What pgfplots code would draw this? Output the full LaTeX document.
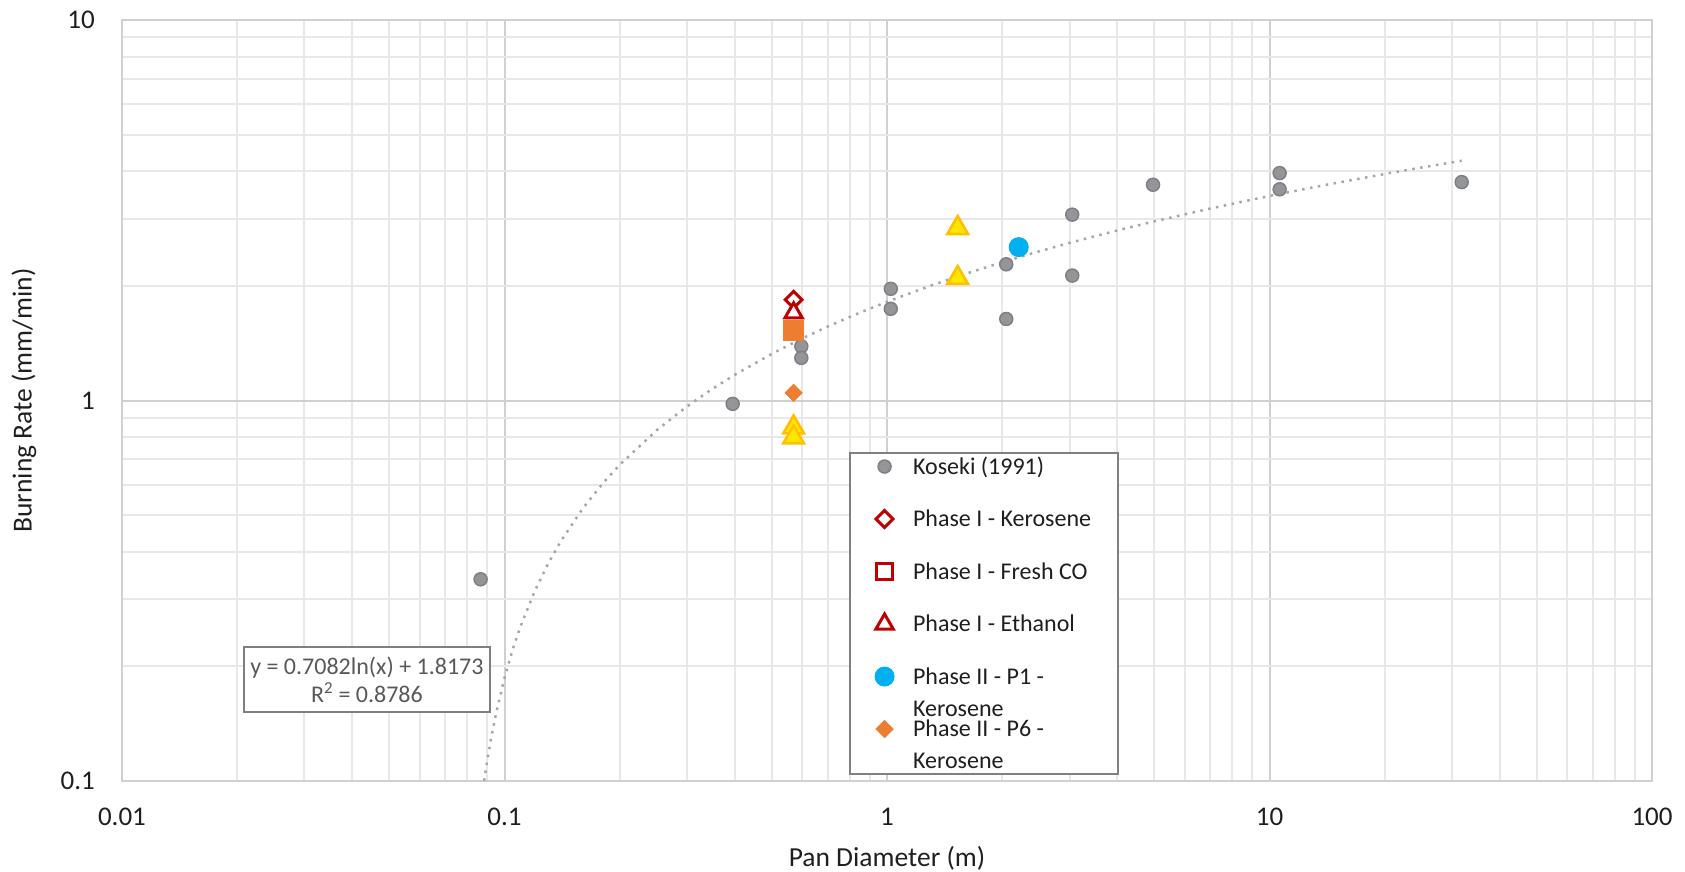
\documentclass[border=0pt]{standalone}
\usepackage{fontspec}
\setmainfont{Carlito}
\usepackage{pgfplots}
\pgfplotsset{compat=1.18}
\definecolor{kgray}{HTML}{959595}
\definecolor{kedge}{HTML}{7B8089}
\definecolor{cred}{HTML}{C00000}
\definecolor{corange}{HTML}{ED7D31}
\definecolor{cblue}{HTML}{00B0F0}
\definecolor{cyel}{HTML}{FFE600}
\definecolor{cyedge}{HTML}{FFC000}
\definecolor{majgrid}{HTML}{D0D0D0}
\definecolor{mingrid}{HTML}{E8E8E8}
\definecolor{trend}{HTML}{A6A6A6}
\definecolor{eqbox}{HTML}{7F7F7F}
\definecolor{eqtext}{HTML}{595959}
\definecolor{legbox}{HTML}{808080}
\definecolor{textdark}{HTML}{1F1F1F}
\begin{document}
\begin{tikzpicture}
\path[use as bounding box] (0,0) rectangle (1685pt,871pt);
\begin{axis}[
  at={(122pt,90pt)}, anchor=south west,
  scale only axis, width=1530pt, height=761pt,
  xmode=log, ymode=log,
  xmin=0.01, xmax=100, ymin=0.1, ymax=10,
  xtick={0.01,0.1,1,10,100},
  xticklabels={\mbox{0.01},\mbox{0.1},\mbox{1},\mbox{10},\mbox{100}},
  ytick={0.1,1,10},
  yticklabels={\mbox{0.1},\mbox{1},\mbox{10}},
  minor xtick={0.02,0.03,0.04,0.05,0.06,0.07,0.08,0.09,0.2,0.3,0.4,0.5,0.6,0.7,0.8,0.9,2,3,4,5,6,7,8,9,20,30,40,50,60,70,80,90},
  minor ytick={0.2,0.3,0.4,0.5,0.6,0.7,0.8,0.9,2,3,4,5,6,7,8,9},
  grid=both,
  major grid style={draw=majgrid, line width=2pt},
  minor grid style={draw=mingrid, line width=2pt},
  major tick length=0pt, minor tick length=0pt,
  axis line style={draw=majgrid, line width=2pt},
  xticklabel style={anchor=base, yshift=-44.5pt, inner sep=0pt, font=\fontsize{27}{32}\selectfont, text=textdark},
  yticklabel style={anchor=east, xshift=-27pt, inner sep=0pt, font=\fontsize{27}{32}\selectfont, text=textdark},
  xlabel={Pan Diameter (m)},
  ylabel={Burning Rate (mm/min)},
  every axis x label/.style={at={(axis description cs:0.5,-0.1012)}, anchor=center, font=\fontsize{27.5}{32}\selectfont, text=textdark},
  every axis y label/.style={at={(axis description cs:-0.06405,0.5)}, rotate=90, anchor=center, font=\fontsize{27.5}{32}\selectfont, text=textdark},
  legend image code/.code={\draw[yshift=7.5pt,mark repeat=2,mark phase=2,#1] plot coordinates {(0pt,0pt) (14pt,0pt) (28pt,0pt)};},
  legend style={at={(0.4752,0.4323)}, anchor=north west, draw=legbox, line width=2pt, fill=white,
    inner xsep=25pt, inner ysep=1pt, row sep=29pt, column sep=17pt,
    font=\fontsize{24}{32}\selectfont,
    cells={anchor=base west, inner sep=0pt, text height=18pt, text depth=6pt, text=textdark}},
]
% trendline (logarithmic fit of Koseki data)
\addplot[forget plot, draw=trend, line width=2.5pt, dash pattern=on 2.5pt off 5.5pt] coordinates {
(0.0885,0.1001) (0.089,0.10408) (0.09,0.11199) (0.092,0.12756) (0.095,0.15028) (0.1,0.18661)
(0.105,0.22117) (0.11,0.25411) (0.12,0.31573) (0.13,0.37242) (0.14,0.42490) (0.16,0.51947)
(0.18,0.60288) (0.2,0.67750) (0.25,0.83553) (0.3,0.96465) (0.35,1.07382) (0.4,1.16838)
(0.5,1.32641) (0.6,1.45553) (0.7,1.56470) (0.85,1.70220) (1,1.8173) (1.3,2.00310)
(1.6,2.15016) (2,2.30819) (2.5,2.46622) (3,2.59534) (4,2.79907) (5,2.95710) (7,3.19539)
(10,3.44799) (14,3.68628) (20,3.93888) (25,4.09691) (31.8,4.26730)};
% Koseki (1991)
\addplot[only marks, mark=*, mark size=6.5pt, mark options={fill=kgray, draw=kedge, line width=1.5pt}] coordinates {
(0.0866,0.339) (0.395,0.98) (0.597,1.388) (0.597,1.294) (1.023,1.966) (1.023,1.742)
(2.05,2.28) (2.05,1.638) (3.05,3.08) (3.05,2.13) (4.96,3.69) (10.63,3.96) (10.63,3.59) (31.8,3.75)};
\addlegendentry{Koseki (1991)}
% Phase I - Kerosene
\addplot[only marks, mark=square*, mark size=6pt, mark options={rotate=45, fill=white, draw=cred, line width=3pt}] coordinates {(0.570,1.84)};
\addlegendentry{Phase I - Kerosene}
% Phase I - Fresh CO
\addplot[only marks, mark=square*, mark size=8pt, mark options={fill=white, draw=cred, line width=3pt}] coordinates {(0.570,1.535)};
\addlegendentry{Phase I - Fresh CO}
% Phase I - Ethanol
\addplot[only marks, mark=triangle*, mark size=10pt, mark options={fill=white, draw=cred, line width=3pt}] coordinates {(0.570,1.70)};
\addlegendentry{Phase I - Ethanol}
% Phase II - P1 - Kerosene
\addplot[only marks, mark=*, mark size=9.5pt, mark options={fill=cblue, draw=cblue, line width=1pt}] coordinates {(2.21,2.53)};
\addlegendentry{{\begin{tabular}[t]{@{}l@{}}Phase II - P1 -\\Kerosene\end{tabular}}}
% Phase II - P6 - Kerosene
\addplot[only marks, mark=square*, mark size=6pt, mark options={rotate=45, fill=corange, draw=corange, line width=1pt}] coordinates {(0.570,1.047)};
\addlegendentry[text depth=34pt]{{\begin{tabular}[t]{@{}l@{}}Phase II - P6 -\\Kerosene\end{tabular}}}
% further series (not in the visible legend)
\addplot[forget plot, only marks, mark=square*, mark size=10pt, mark options={fill=corange, draw=corange, line width=1pt}] coordinates {(0.570,1.53)};
\addplot[forget plot, only marks, mark=triangle*, mark size=12pt, mark options={fill=cyel, draw=cyedge, line width=2.5pt}] coordinates {
(0.570,0.85) (0.570,0.80) (1.53,2.84) (1.53,2.10)};
\node[draw=eqbox, line width=2pt, fill=white, text=eqtext, minimum width=246pt, minimum height=65pt,
  align=center, inner sep=0pt, font=\fontsize{24}{28}\selectfont]
  at (axis description cs:0.1601,0.1334) {y = 0.7082ln(x) + 1.8173\\R\textsuperscript{2} = 0.8786};
\end{axis}
\end{tikzpicture}
\end{document}
